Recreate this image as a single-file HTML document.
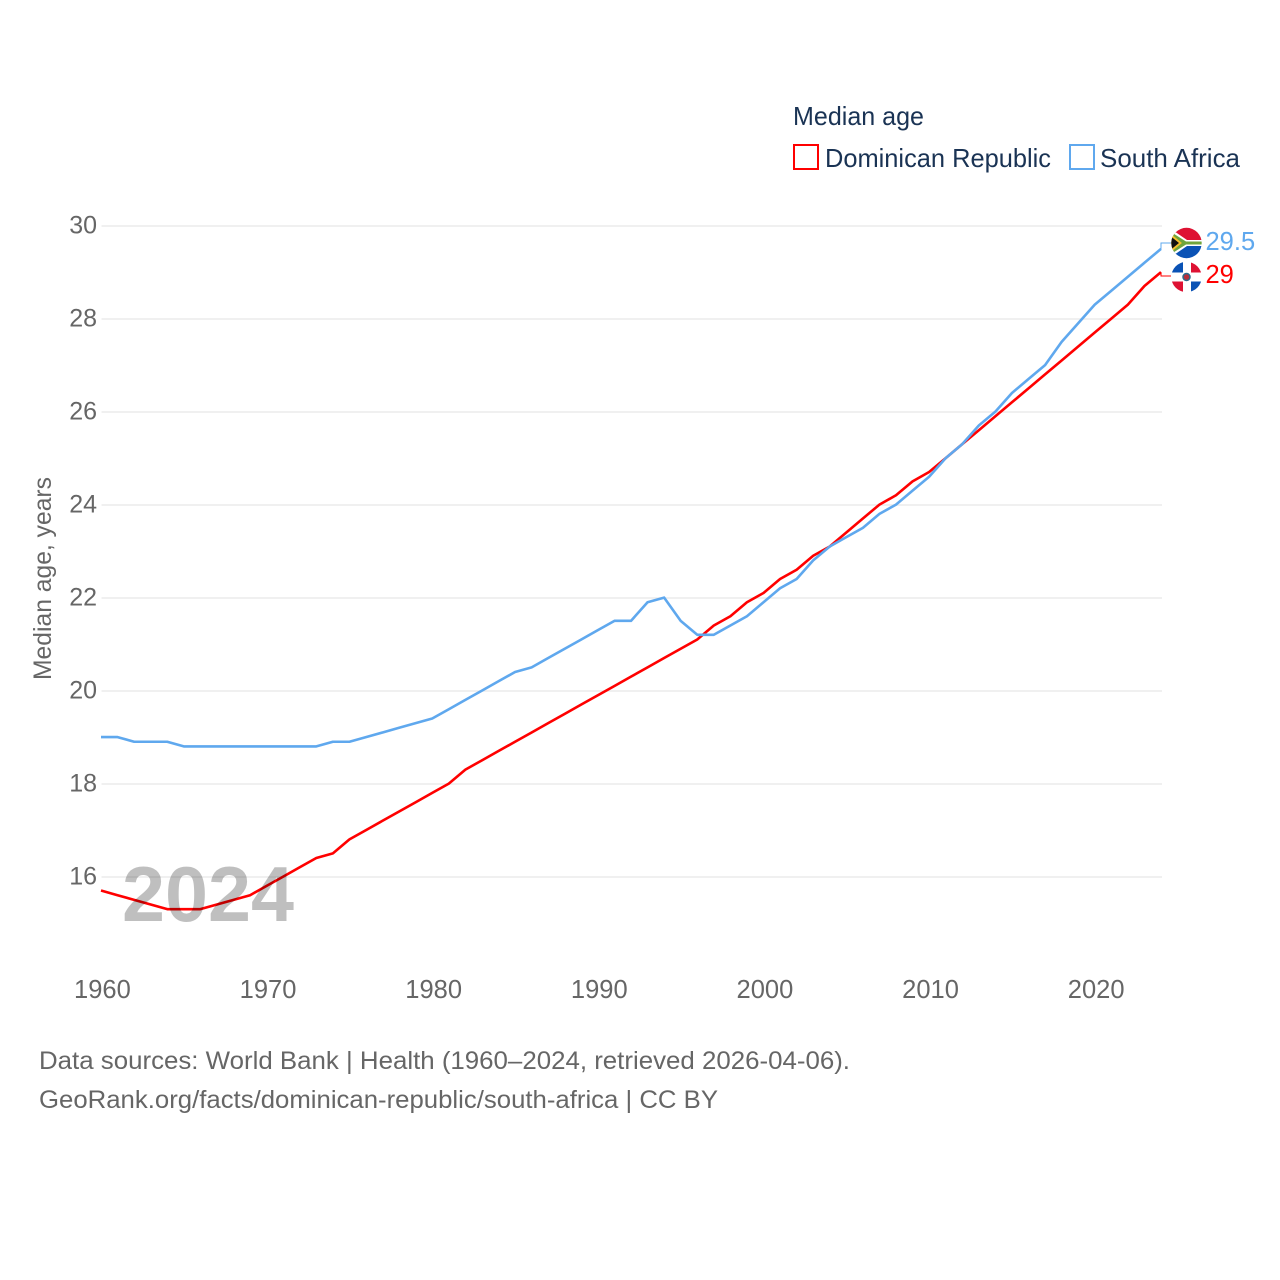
<!DOCTYPE html>
<html lang="en">
<head>
<meta charset="utf-8">
<title>Median age: Dominican Republic and South Africa</title>
<style>
html,body{margin:0;padding:0;background:#fff;}
svg{display:block;}
text{font-family:"Liberation Sans",sans-serif;}
</style>
</head>
<body>
<svg id="chart" width="1280" height="1280" viewBox="0 0 1280 1280" xmlns="http://www.w3.org/2000/svg">
  <defs>
    <clipPath id="za-clip"><circle cx="1186.500" cy="243" r="15.200"/></clipPath>
    <clipPath id="do-clip"><circle cx="1186.500" cy="277" r="15.200"/></clipPath>
  </defs>
  <rect x="0" y="0" width="1280" height="1280" fill="#fff"/>

  <g id="grid"></g>
  <g id="y-ticks"></g>
  <g id="x-ticks"></g>
  <text transform="translate(51,680) rotate(-90)" font-size="25" fill="#666" textLength="203" lengthAdjust="spacingAndGlyphs">Median age, years</text>

  <g id="series"></g>

  <text x="122" y="921" font-size="78" font-weight="700" fill="rgba(0,0,0,0.25)" textLength="172" lengthAdjust="spacingAndGlyphs">2024</text>

  <g>
    <text x="793" y="125" font-size="26" fill="#1a3354" textLength="131" lengthAdjust="spacingAndGlyphs">Median age</text>
    <g>
      <rect x="794" y="145" width="24" height="24" fill="#fff" stroke="#ff0000" stroke-width="2"/>
      <text x="825" y="167" font-size="26" fill="#1a3354" textLength="226" lengthAdjust="spacingAndGlyphs">Dominican Republic</text>
    </g>
    <g>
      <rect x="1070" y="145" width="24" height="24" fill="#fff" stroke="#5fa8ee" stroke-width="2"/>
      <text x="1100" y="167" font-size="26" fill="#1a3354" textLength="140" lengthAdjust="spacingAndGlyphs">South Africa</text>
    </g>
  </g>

  <g clip-path="url(#za-clip)">
    <rect x="1171" y="227" width="31" height="32" fill="#fff"/>
    <rect x="1171" y="227" width="31" height="13" fill="#de1233"/>
    <rect x="1171" y="246" width="31" height="13" fill="#0a52b5"/>
    <path d="M1171 229 L1187 240 H1202 V246 H1187 L1171 257 Z" fill="#fff"/>
    <path d="M1171 232 L1186 241.500 H1202 V244.500 H1186 L1171 254 Z" fill="#6fa53c"/>
    <path d="M1171 235.500 L1180 243 L1171 250.500 Z" fill="#f5c02e" stroke="#f5c02e" stroke-width="2.500"/>
    <path d="M1171 236.500 L1179 243 L1171 249.500 Z" fill="#111"/>
  </g>
  <g clip-path="url(#do-clip)">
    <rect x="1171" y="261" width="31" height="32" fill="#fff"/>
    <rect x="1171" y="261" width="12" height="11.500" fill="#0a52b5"/>
    <rect x="1191" y="261" width="11" height="11.500" fill="#de1233"/>
    <rect x="1171" y="281.500" width="12" height="11.500" fill="#de1233"/>
    <rect x="1191" y="281.500" width="11" height="11.500" fill="#0a52b5"/>
    <circle cx="1186.500" cy="277" r="3.500" fill="#b8303a" stroke="#2d6a8a" stroke-width="1.500"/>
  </g>

  <g id="end-labels"></g>

  <g>
    <text x="39" y="1069" font-size="25" fill="#666" textLength="811" lengthAdjust="spacingAndGlyphs">Data sources: World Bank | Health (1960–2024, retrieved 2026-04-06).</text>
    <text x="39" y="1108" font-size="25" fill="#666" textLength="679" lengthAdjust="spacingAndGlyphs">GeoRank.org/facts/dominican-republic/south-africa | CC BY</text>
  </g>
</svg>
<script>
var years = [1960,1961,1962,1963,1964,1965,1966,1967,1968,1969,1970,1971,1972,1973,1974,1975,1976,1977,1978,1979,1980,1981,1982,1983,1984,1985,1986,1987,1988,1989,1990,1991,1992,1993,1994,1995,1996,1997,1998,1999,2000,2001,2002,2003,2004,2005,2006,2007,2008,2009,2010,2011,2012,2013,2014,2015,2016,2017,2018,2019,2020,2021,2022,2023,2024];
var dominicanRepublic = [15.7,15.6,15.5,15.4,15.3,15.3,15.3,15.4,15.5,15.6,15.8,16.0,16.2,16.4,16.5,16.8,17.0,17.2,17.4,17.6,17.8,18.0,18.3,18.5,18.7,18.9,19.1,19.3,19.5,19.7,19.9,20.1,20.3,20.5,20.7,20.9,21.1,21.4,21.6,21.9,22.1,22.4,22.6,22.9,23.1,23.4,23.7,24.0,24.2,24.5,24.7,25.0,25.3,25.6,25.9,26.2,26.5,26.8,27.1,27.4,27.7,28.0,28.3,28.7,29.0];
var southAfrica = [19.0,19.0,18.9,18.9,18.9,18.8,18.8,18.8,18.8,18.8,18.8,18.8,18.8,18.8,18.9,18.9,19.0,19.1,19.2,19.3,19.4,19.6,19.8,20.0,20.2,20.4,20.5,20.7,20.9,21.1,21.3,21.5,21.5,21.9,22.0,21.5,21.2,21.2,21.4,21.6,21.9,22.2,22.4,22.8,23.1,23.3,23.5,23.8,24.0,24.3,24.6,25.0,25.3,25.7,26.0,26.4,26.7,27.0,27.5,27.9,28.3,28.6,28.9,29.2,29.5];
var yTickValues = [16,18,20,22,24,26,28,30];
var xTickValues = [1960,1970,1980,1990,2000,2010,2020];

var NS = 'http://www.w3.org/2000/svg';
function xScale(year){ return 101 + (year - 1960) * (1161 - 101) / 64; }
function yScale(v){ return 225.6 + (30 - v) * (876.6 - 225.6) / 14; }
function svgEl(tag, parent){
  var el = document.createElementNS(NS, tag);
  parent.appendChild(el);
  return el;
}

var gridG = document.getElementById('grid');
var yG = document.getElementById('y-ticks');
yTickValues.forEach(function(v){
  var line = svgEl('line', gridG);
  
  
  line.setAttribute('x1', 101.5);
  line.setAttribute('x2', 1162);
  line.setAttribute('y1', yScale(v) + 0.4);
  line.setAttribute('y2', yScale(v) + 0.4);
  line.setAttribute('stroke', '#ebebeb');
  line.setAttribute('stroke-width', '1.5');
  var t = svgEl('text', yG);
  
  
  t.setAttribute('x', 97);
  t.setAttribute('y', yScale(v) + 8);
  t.setAttribute('text-anchor', 'end');
  t.setAttribute('font-size', '25');
  t.setAttribute('fill', '#666');
  t.textContent = v;
});

var xG = document.getElementById('x-ticks');
xTickValues.forEach(function(y){
  var t = svgEl('text', xG);
  
  
  t.setAttribute('x', xScale(y) + 1.4);
  t.setAttribute('y', 998);
  t.setAttribute('text-anchor', 'middle');
  t.setAttribute('font-size', '25.5');
  t.setAttribute('fill', '#666');
  t.textContent = y;
});

function linePoints(values){
  return values.map(function(v, i){ return xScale(years[i]).toFixed(2) + ',' + yScale(v).toFixed(2); }).join(' ');
}

var seriesG = document.getElementById('series');
var redLine = svgEl('polyline', seriesG);


redLine.setAttribute('points', linePoints(dominicanRepublic));
redLine.setAttribute('fill', 'none');
redLine.setAttribute('stroke', '#ff0000');
redLine.setAttribute('stroke-width', '2.6');
redLine.setAttribute('stroke-linejoin', 'round');

var blueLine = svgEl('polyline', seriesG);


blueLine.setAttribute('points', linePoints(southAfrica));
blueLine.setAttribute('fill', 'none');
blueLine.setAttribute('stroke', '#5fa8ee');
blueLine.setAttribute('stroke-width', '2.6');
blueLine.setAttribute('stroke-linejoin', 'round');

var endG = document.getElementById('end-labels');
function endLabel(values, color, labelY, name){
  var last = values[values.length - 1];
  var ex = xScale(years[years.length - 1]);
  var ey = yScale(last);
  var c = svgEl('polyline', endG);
  
  
  c.setAttribute('points', ex + ',' + ey + ' ' + ex + ',' + labelY + ' ' + (ex + 10) + ',' + labelY);
  c.setAttribute('fill', 'none');
  c.setAttribute('stroke', color);
  c.setAttribute('stroke-width', '1');
  var t = svgEl('text', endG);
  
  
  t.setAttribute('x', 1205.5);
  t.setAttribute('y', labelY + 7);
  t.setAttribute('font-size', '25.5');
  t.setAttribute('fill', color);
  t.textContent = last;
}
endLabel(southAfrica, '#5fa8ee', 243, 'south-africa');
endLabel(dominicanRepublic, '#ff0000', 276, 'dominican-republic');
</script>
</body>
</html>
